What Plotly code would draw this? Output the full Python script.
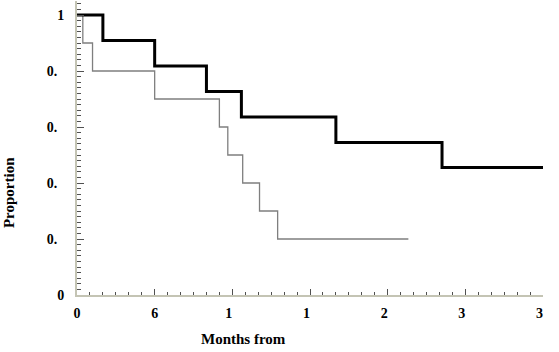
import plotly.graph_objects as go

# Survival curves (months, proportion)
black_months = [0, 2, 6, 10, 12.7, 20, 28.2, 36]
black_prop = [1.0, 0.909, 0.818, 0.727, 0.636, 0.545, 0.455, 0.455]

gray_months = [0, 0.45, 1.2, 6, 11, 11.65, 12.8, 14.1, 15.5, 25.6]
gray_prop = [1.0, 0.9, 0.8, 0.7, 0.6, 0.5, 0.4, 0.3, 0.2, 0.2]

x_tickvals = [0, 6, 12, 18, 24, 30, 36]
x_ticktext = ["0", "6", "1\u00a0\u00a0", "1\u00a0\u00a0", "2\u00a0\u00a0", "3\u00a0\u00a0", "3\u00a0\u00a0"]
y_tickvals = [0, 0.2, 0.4, 0.6, 0.8, 1.0]
y_ticktext = ["0", "0.\u00a0\u00a0", "0.\u00a0\u00a0", "0.\u00a0\u00a0", "0.\u00a0\u00a0", "1"]

FONT = "Liberation Serif"
AXIS_COL = "#c4c4b4"
TICK_COL = "#505050"

fig = go.Figure()
fig.add_trace(go.Scatter(x=gray_months, y=gray_prop, mode="lines",
                         line=dict(color="#7f7f7f", width=1.3, shape="hv"),
                         showlegend=False, hoverinfo="skip"))
fig.add_trace(go.Scatter(x=black_months, y=black_prop, mode="lines",
                         line=dict(color="#000000", width=3, shape="hv"),
                         showlegend=False, hoverinfo="skip"))

tickfont = dict(family=FONT, size=14, color="#000000")

fig.update_layout(
    width=559, height=352,
    margin=dict(l=77, r=16, t=1, b=57),
    paper_bgcolor="white", plot_bgcolor="white",
    xaxis=dict(range=[0, 36], showgrid=False, zeroline=False,
               showline=True, linecolor=AXIS_COL, linewidth=2,
               tickmode="array", tickvals=x_tickvals, ticktext=x_ticktext,
               ticks="inside", ticklen=6, tickwidth=1, tickcolor=TICK_COL,
               tickfont=tickfont, ticklabelstandoff=4,
               minor=dict(tickmode="linear", tick0=0, dtick=1, ticks="inside",
                          ticklen=3, tickwidth=1, tickcolor=TICK_COL)),
    yaxis=dict(range=[0, 1.05], showgrid=False, zeroline=False,
               showline=True, linecolor=AXIS_COL, linewidth=2,
               tickmode="array", tickvals=y_tickvals, ticktext=y_ticktext,
               ticks="inside", ticklen=7, tickwidth=1, tickcolor=TICK_COL,
               tickfont=tickfont, ticklabelstandoff=8,
               minor=dict(tickmode="linear", tick0=0, dtick=0.02, ticks="inside",
                          ticklen=4, tickwidth=1, tickcolor=TICK_COL)),
    annotations=[
        dict(text="<b>Months from</b>", x=0.358, y=-0.15, xref="paper", yref="paper",
             xanchor="center", yanchor="middle", showarrow=False,
             font=dict(family=FONT, size=15, color="#000000")),
        dict(text="<b>Proportion</b>", x=-0.146, y=0.35, xref="paper", yref="paper",
             xanchor="center", yanchor="middle", showarrow=False, textangle=-90,
             font=dict(family=FONT, size=15, color="#000000")),
    ],
)
fig.update_xaxes(tickfont=dict(family=FONT, size=14, color="#000000", weight="bold"))
fig.update_yaxes(tickfont=dict(family=FONT, size=14, color="#000000", weight="bold"))

fig.write_html("out.html")
